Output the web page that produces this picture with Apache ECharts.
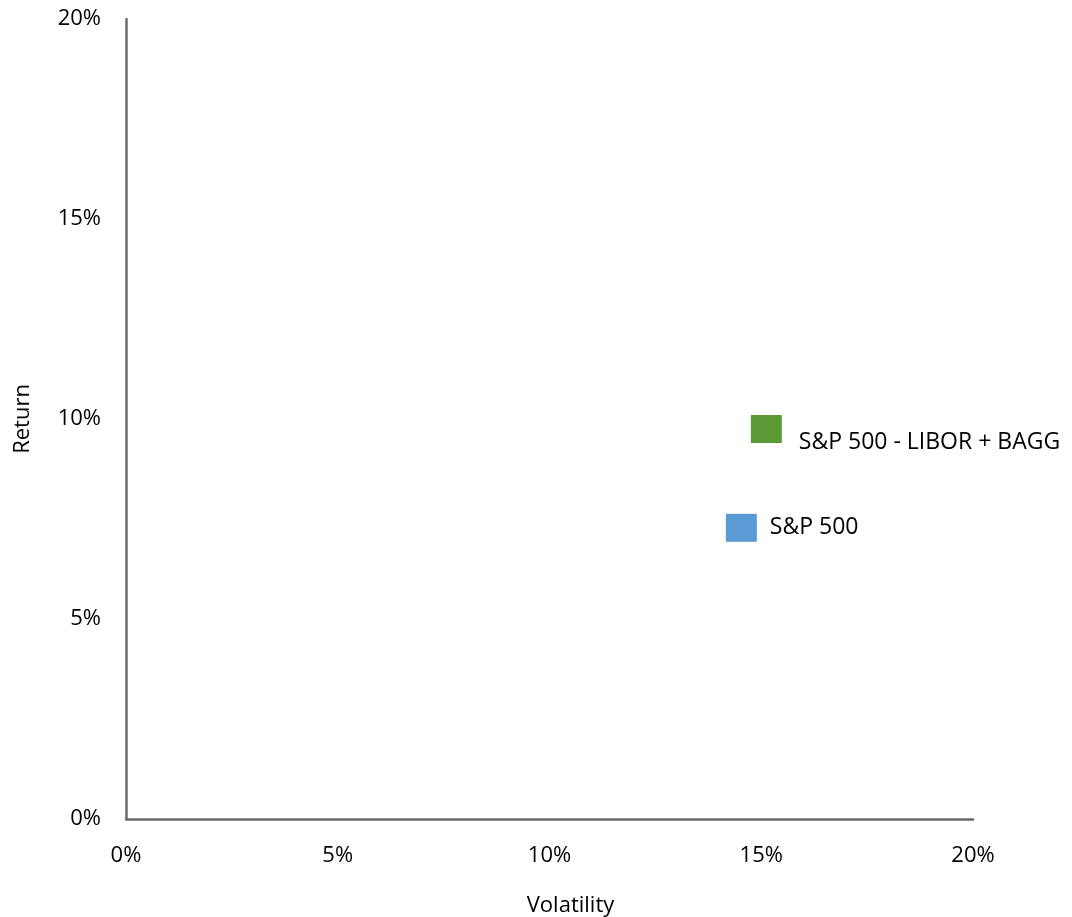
<!DOCTYPE html>
<html>
<head>
<meta charset="utf-8">
<script src="https://cdn.jsdelivr.net/npm/echarts@6/dist/echarts.min.js"></script>
<style>
  html, body { margin: 0; padding: 0; background: #fff; }
  #container { width: 1072px; height: 917px; }
</style>
</head>
<body>
<div id="container"></div>
<script>
// data (percent)
var names = ["S&P 500", "S&P 500 - LIBOR + BAGG"];
var volatility = [14.53, 15.12];
var returns = [7.28, 9.75];
var colors = ["#5b9bd5", "#5c9a35"];
var axisTicks = [0, 5, 10, 15, 20];

var chart = echarts.init(document.getElementById("container"));

var fontFamily = "'Open Sans', 'Noto Sans', sans-serif";

var option = {
  animation: false,
  grid: { left: 126, right: 99, top: 19, bottom: 98, outerBoundsMode: "none", containLabel: false },
  xAxis: {
    type: "value",
    min: axisTicks[0],
    max: axisTicks[axisTicks.length - 1],
    interval: 5,
    name: "Volatility",
    nameLocation: "middle",
    nameGap: 76,
    nameTextStyle: { color: "#000", fontSize: 22, fontFamily: fontFamily, padding: [0, 0, 0, 42] },
    axisLine: { lineStyle: { color: "#6b6b6b", width: 2.5 } },
    axisTick: { show: false },
    splitLine: { show: false },
    axisLabel: {
      color: "#000", fontSize: 22, fontFamily: fontFamily, margin: 26,
      formatter: function (v) { return v + "%"; }
    }
  },
  yAxis: {
    type: "value",
    min: axisTicks[0],
    max: axisTicks[axisTicks.length - 1],
    interval: 5,
    name: "Return",
    nameLocation: "middle",
    nameGap: 92,
    nameRotate: 90,
    nameTextStyle: { color: "#000", fontSize: 22, fontFamily: fontFamily },
    axisLine: { show: true, lineStyle: { color: "#6b6b6b", width: 2.5 } },
    axisTick: { show: false },
    splitLine: { show: false },
    axisLabel: {
      color: "#000", fontSize: 22, fontFamily: fontFamily, margin: 25,
      formatter: function (v) { return v + "%"; }
    }
  },
  series: names.map(function (n, i) {
    return {
      name: n,
      type: "scatter",
      symbol: "rect",
      symbolSize: [31, 28],
      itemStyle: { color: colors[i], opacity: 1 },
      label: {
        show: true,
        position: "right",
        distance: i === 1 ? 17 : 13,
        offset: i === 1 ? [0, 13] : [0, 0],
        color: "#000",
        fontSize: 23,
        fontFamily: fontFamily,
        formatter: n
      },
      data: [[volatility[i], returns[i]]]
    };
  })
};

chart.setOption(option, true);
</script>
</body>
</html>
